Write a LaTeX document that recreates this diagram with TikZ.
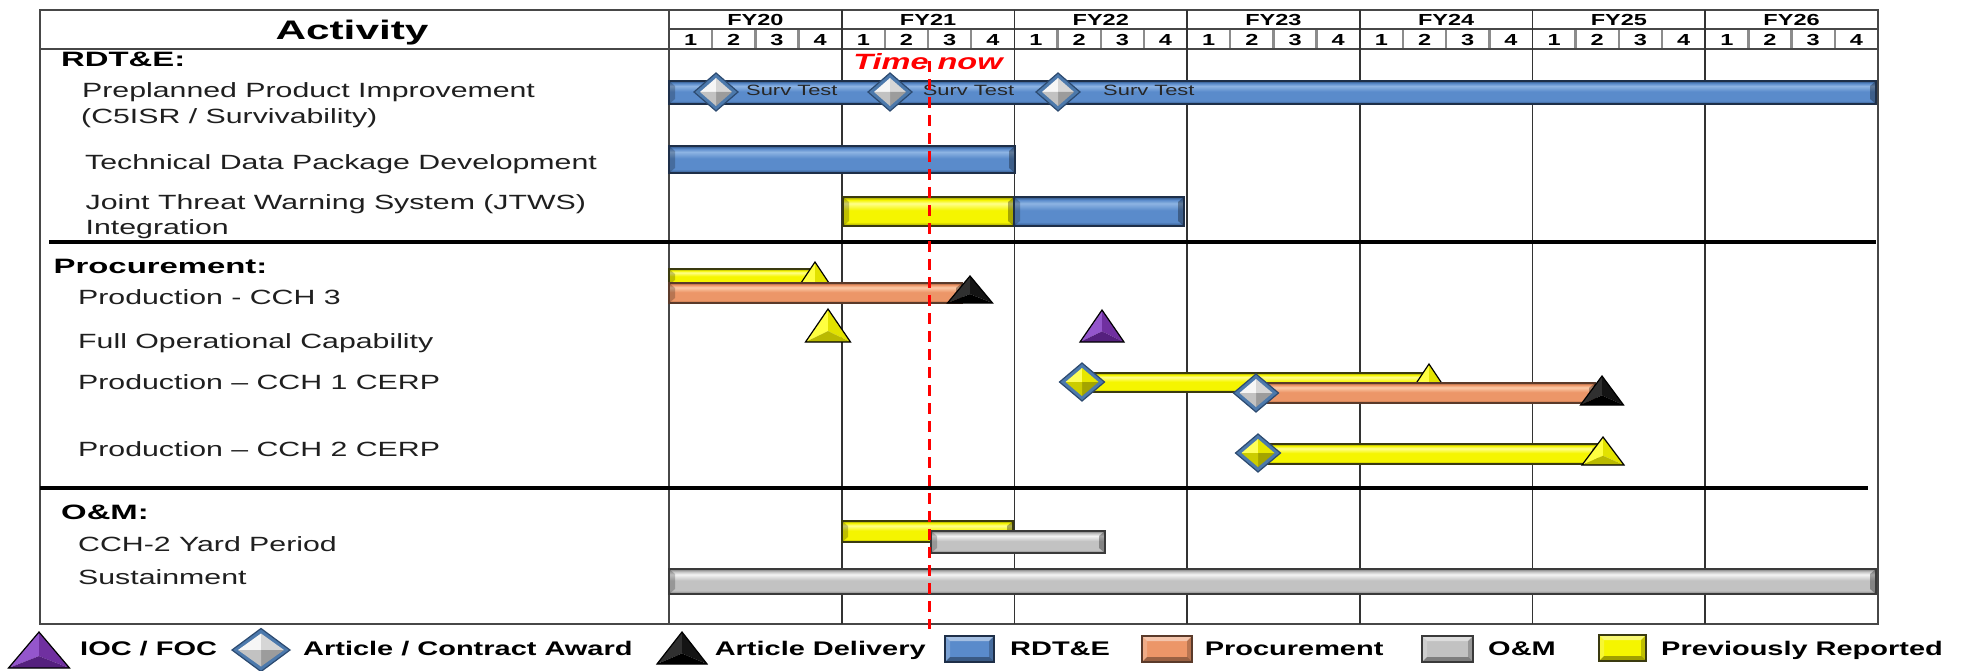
\documentclass[tikz,border=0pt]{standalone}
\usepackage{fontspec}
\newfontfamily\lbl[FakeStretch=1.47]{Liberation Sans}
\newfontfamily\hdg[FakeStretch=1.58]{Liberation Sans}

% bar colours: dark / mid / highlight / outline
\definecolor{bluedk}{HTML}{2F5485}
\definecolor{bluemid}{HTML}{5A8BCB}
\definecolor{bluehi}{HTML}{8EB4E3}
\definecolor{blueedge}{HTML}{1E2F48}
\definecolor{ordk}{HTML}{A5603C}
\definecolor{ormid}{HTML}{EC9668}
\definecolor{orhi}{HTML}{FCCBA8}
\definecolor{oredge}{HTML}{5A3A2A}
\definecolor{yedk}{HTML}{9C9C00}
\definecolor{yemid}{HTML}{F5F500}
\definecolor{yehi}{HTML}{FFFF8C}
\definecolor{yeedge}{HTML}{3A3A10}
\definecolor{grdk}{HTML}{7A7A7A}
\definecolor{grmid}{HTML}{C2C2C2}
\definecolor{grhi}{HTML}{F4F4F4}
\definecolor{gredge}{HTML}{3A3A3A}
% diamond facets
\definecolor{diamrim}{HTML}{4C79AC}
\definecolor{diamedge}{HTML}{2C4A70}
\definecolor{wdtl}{HTML}{F6F6F6}
\definecolor{wdtr}{HTML}{D6D6D6}
\definecolor{wdbr}{HTML}{9C9C9C}
\definecolor{wdbl}{HTML}{C2C2C2}
\definecolor{ydtl}{HTML}{FFFF5A}
\definecolor{ydtr}{HTML}{E6E600}
\definecolor{ydbr}{HTML}{A4A400}
\definecolor{ydbl}{HTML}{CCCC00}
% triangle facets
\definecolor{tyl}{HTML}{FFFF40}
\definecolor{tyr}{HTML}{E2E200}
\definecolor{tyb}{HTML}{BABA00}
\definecolor{tkl}{HTML}{303030}
\definecolor{tkr}{HTML}{141414}
\definecolor{tkb}{HTML}{000000}
\definecolor{tpl}{HTML}{9456CC}
\definecolor{tpr}{HTML}{7030A0}
\definecolor{tpb}{HTML}{55207E}
\definecolor{nowred}{HTML}{FF0000}

\newcommand\mkbarshade[4]{%
  \pgfdeclareverticalshading{#1}{100bp}{color(0bp)=(#2); color(25bp)=(#2);
    color(32bp)=(#3); color(52bp)=(#3); color(64bp)=(#4); color(70bp)=(#3);
    color(75bp)=(#2); color(100bp)=(#2)}}
\mkbarshade{bluebar}{bluedk}{bluemid}{bluehi}
\mkbarshade{orbar}{ordk}{ormid}{orhi}
\mkbarshade{yebar}{yedk}{yemid}{yehi}
\mkbarshade{grbar}{grdk}{grmid}{grhi}

% bevelled bar: x0 y0 x1 y1 kind
\newcommand\gbar[5]{%
  \shade[shading=#5bar] (#1,#2) rectangle (#3,#4);
  \fill[black,opacity=.22] (#1,#2) -- ({#1+6},{#2+5}) -- ({#1+6},{#4-5}) -- (#1,#4) -- cycle;
  \fill[black,opacity=.32] (#3,#2) -- ({#3-6},{#2+5}) -- ({#3-6},{#4-5}) -- (#3,#4) -- cycle;
  \draw[#5edge,line width=1.3] (#1,#2) rectangle (#3,#4);}

% faceted diamond: cx cy half-width half-height kind
\newcommand\gdiamond[5]{%
  \fill[diamrim] ({#1-#3},#2) -- (#1,{#2-#4}) -- ({#1+#3},#2) -- (#1,{#2+#4}) -- cycle;
  \fill[#5tl] ({#1-#3+6},#2) -- (#1,{#2-#4+5}) -- (#1,#2) -- cycle;
  \fill[#5tr] (#1,{#2-#4+5}) -- ({#1+#3-6},#2) -- (#1,#2) -- cycle;
  \fill[#5br] ({#1+#3-6},#2) -- (#1,{#2+#4-5}) -- (#1,#2) -- cycle;
  \fill[#5bl] (#1,{#2+#4-5}) -- ({#1-#3+6},#2) -- (#1,#2) -- cycle;
  \draw[diamedge,line width=1.2] ({#1-#3},#2) -- (#1,{#2-#4}) -- ({#1+#3},#2) -- (#1,{#2+#4}) -- cycle;}

% faceted triangle: cx apex-y base-y half-width kind
\newcommand\gtri[5]{%
  \fill[#5l] (#1,#2) -- ({#1-#4},#3) -- (#1,{#2+0.67*(#3-#2)}) -- cycle;
  \fill[#5r] (#1,#2) -- ({#1+#4},#3) -- (#1,{#2+0.67*(#3-#2)}) -- cycle;
  \fill[#5b] ({#1-#4},#3) -- ({#1+#4},#3) -- (#1,{#2+0.67*(#3-#2)}) -- cycle;
  \draw[black,line width=1.2] (#1,#2) -- ({#1-#4},#3) -- ({#1+#4},#3) -- cycle;}

% legend swatch: x0 y0 x1 y1 kind
\newcommand\legbox[5]{%
  \fill[#5mid] (#1,#2) rectangle (#3,#4);
  \fill[white,opacity=.45] (#1,#2) -- (#3,#2) -- ({#3-5},{#2+5}) -- ({#1+5},{#2+5}) -- cycle;
  \fill[white,opacity=.2] (#1,#2) -- ({#1+5},{#2+5}) -- ({#1+5},{#4-5}) -- (#1,#4) -- cycle;
  \fill[black,opacity=.22] (#3,#2) -- ({#3-5},{#2+5}) -- ({#3-5},{#4-5}) -- (#3,#4) -- cycle;
  \fill[black,opacity=.35] (#1,#4) -- ({#1+5},{#4-5}) -- ({#3-5},{#4-5}) -- (#3,#4) -- cycle;
  \draw[#5edge,line width=1.5] (#1,#2) rectangle (#3,#4);}

\begin{document}
\begin{tikzpicture}[x=1pt,y=-1pt,
  frame/.style={draw=black!72,line width=1.8},
  yline/.style={draw=black!80,line width=1.6},
  qline/.style={draw=black!45,line width=2.4},
  secline/.style={draw=black,line width=3.5},
  nowline/.style={draw=nowred,line width=3,dash pattern=on 11 off 7},
  lab/.style={anchor=base west,inner sep=0,text=black!88,font=\lbl\fontsize{20.6}{24}\selectfont},
  hd/.style={anchor=base west,inner sep=0,text=black,font=\hdg\bfseries\fontsize{20.8}{24}\selectfont},
  yearlab/.style={anchor=base,inner sep=0,font=\lbl\bfseries\fontsize{16}{18}\selectfont},
  qlab/.style={anchor=base,inner sep=0,font=\lbl\bfseries\fontsize{16}{18}\selectfont},
  survlab/.style={anchor=base west,inner sep=0,text=black!85,font=\lbl\fontsize{14.9}{17}\selectfont},
  leglab/.style={anchor=base west,inner sep=0,text=black,font=\lbl\bfseries\fontsize{19.7}{24}\selectfont}]
\useasboundingbox (0,0) rectangle (1969,671);
\fill[white] (0,0) rectangle (1969,671);

% ---------- grid ----------
\draw[frame] (40,10) rectangle (1878,624);
\draw[frame] (40,49) -- (1878,49);
\draw[frame] (669,10) -- (669,624);
\draw[frame] (669,29) -- (1878,29);
\foreach \k in {1,...,6} \draw[yline] ({669+172.7*\k},10) -- ({669+172.7*\k},624);
\foreach \k in {0,...,6} \foreach \q in {1,2,3}
  \draw[qline] ({669+172.7*\k+43.175*\q},30) -- ({669+172.7*\k+43.175*\q},48);
\draw[secline] (49,242) -- (1876,242);
\draw[secline] (40,488) -- (1868,488);

% ---------- header ----------
\node (activity) [anchor=base,inner sep=0,font=\hdg\bfseries\fontsize{26.8}{30}\selectfont] at (352,40) {Activity};
\foreach \k/\yr in {0/20,1/21,2/22,3/23,4/24,5/25,6/26}
  \node (fy\yr) [yearlab] at ({669+172.7*(\k+0.5)},25.7) {FY\yr};
\foreach \k in {0,...,6} \foreach \q in {1,...,4}
  \node (q\k-\q) [qlab] at ({669+172.7*\k+43.175*(\q-0.5)},45.9) {\q};

% ---------- activity labels ----------
\node (rdte)  [hd]  at (61,66.7)  {RDT\&E:};
\node (p3i)   [lab] at (82,97.3)  {Preplanned Product Improvement};
\node (p3ib)  [lab] at (81,124)   {(C5ISR / Survivability)};
\node (tdp)   [lab] at (85,170)   {Technical Data Package Development};
\node (jtws)  [lab] at (85.5,209.3) {Joint Threat Warning System (JTWS)};
\node (jtwsb) [lab] at (85.5,234.3) {Integration};
\node (proc)  [hd]  at (53.5,273.3) {Procurement:};
\node (cch3)  [lab] at (78,304)   {Production - CCH 3};
\node (foc)   [lab] at (78,348.3) {Full Operational Capability};
\node (cch1)  [lab] at (78,389.3) {Production – CCH 1 CERP};
\node (cch2)  [lab] at (78,456)   {Production – CCH 2 CERP};
\node (om)    [hd]  at (61,519.3) {O\&M:};
\node (yard)  [lab] at (78,551)   {CCH-2 Yard Period};
\node (sust)  [lab] at (78,584.3) {Sustainment};

% ---------- RDT&E ----------
\gbar{669}{81}{1876}{104}{blue}
\gdiamond{716}{92}{22}{19}{wd}
\gdiamond{890}{92}{22}{19}{wd}
\gdiamond{1058}{92}{22}{19}{wd}
\node (surv1) [survlab] at (746,96)   {Surv Test};
\node (surv2) [survlab] at (922.6,96) {Surv Test};
\node (surv3) [survlab] at (1103,96)  {Surv Test};
\gbar{669}{146}{1015}{173}{blue}
\gbar{843}{197}{1014}{226}{ye}
\gbar{1014}{197}{1184}{226}{blue}

% ---------- Procurement ----------
\gbar{669}{269}{812}{285}{ye}
\gtri{815}{262}{295}{22}{ty}
\gbar{669}{283}{962}{303}{or}
\gtri{970}{276}{303}{22.5}{tk}
\gtri{828}{309}{342}{22.5}{ty}
\gtri{1102}{310}{342}{22}{tp}
\gbar{1082}{373}{1425}{392}{ye}
\gtri{1429}{364}{397}{22}{ty}
\gdiamond{1082}{382}{22.5}{19}{yd}
\gbar{1256}{383}{1595}{403}{or}
\gdiamond{1256}{393}{22.5}{19}{wd}
\gtri{1602}{376}{405}{21.5}{tk}
\gbar{1258}{444}{1598}{464}{ye}
\gdiamond{1258}{453}{22.5}{19}{yd}
\gtri{1603}{437}{465}{21}{ty}

% ---------- O&M ----------
\gbar{842}{521}{1013}{542}{ye}
\gbar{931}{531}{1105}{553}{gr}
\gbar{669}{569}{1876}{594}{gr}

% ---------- time-now marker ----------
\coordinate (now-top) at (929,61);
\coordinate (now-bot) at (929,629);
\draw[nowline] (now-top) -- (now-bot);
\node (timenow) [anchor=base,inner sep=0,text=nowred,font=\lbl\bfseries\itshape\fontsize{22.1}{26}\selectfont] at (928,70) {Time now};

% ---------- legend ----------
\gtri{39}{632}{668}{30.5}{tp}
\node (leg-ioc) [leglab] at (80,655) {IOC / FOC};
\gdiamond{261}{650}{29}{21.5}{wd}
\node (leg-award) [leglab] at (303,655) {Article / Contract Award};
\gtri{682}{632}{664}{25}{tk}
\node (leg-deliv) [leglab] at (714.6,655) {Article Delivery};
\legbox{945}{636}{994}{662}{blue}
\node (leg-rdte) [leglab] at (1010,655) {RDT\&E};
\legbox{1142}{636}{1192}{662}{or}
\node (leg-proc) [leglab] at (1204.6,655) {Procurement};
\legbox{1422}{636}{1473}{662}{gr}
\node (leg-om) [leglab] at (1488,655) {O\&M};
\legbox{1599}{635}{1646}{661}{ye}
\node (leg-prev) [leglab] at (1661,655) {Previously Reported};
\end{tikzpicture}
\end{document}
